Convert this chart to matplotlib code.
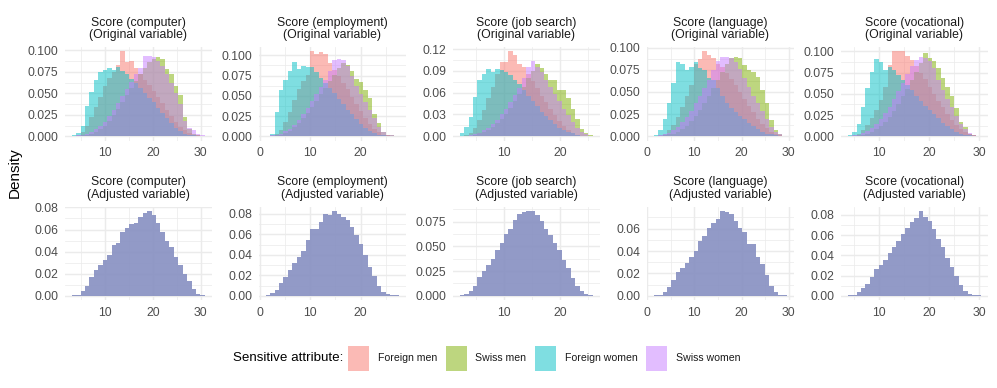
import numpy as np
import matplotlib
matplotlib.use("Agg")
import matplotlib.pyplot as plt
from matplotlib.patches import Rectangle
from matplotlib.ticker import FixedLocator, FixedFormatter

plt.rcParams['font.family'] = ['Liberation Sans', 'DejaVu Sans']

# ---------------- data ----------------
variables = ["computer", "employment", "job search", "language", "vocational"]
groups = ["Foreign men", "Swiss men", "Foreign women", "Swiss women"]
group_colors = ["#F8766D", "#7CAE00", "#00BFC4", "#C77CFF"]

# range covered by the 30 histogram bins of each score
bin_lo = [3.0, 1.2, 2.0, 1.4, 3.8]
bin_hi = [30.9, 27.6, 25.8, 29.6, 30.3]

# original variable, density per bin (30 bins) per group
comp_fm = [0.0005, 0.002, 0.005, 0.012, 0.022, 0.034, 0.046, 0.058, 0.068, 0.075, 0.083, 0.099, 0.086, 0.088, 0.079, 0.072, 0.066, 0.060, 0.053, 0.046, 0.039, 0.031, 0.024, 0.017, 0.011, 0.007, 0.004, 0.002, 0.001, 0.0003]
comp_sm = [0, 0, 0.001, 0.002, 0.003, 0.005, 0.008, 0.012, 0.018, 0.025, 0.032, 0.040, 0.048, 0.056, 0.064, 0.072, 0.080, 0.086, 0.090, 0.092, 0.090, 0.078, 0.072, 0.058, 0.048, 0.022, 0.008, 0.003, 0.001, 0.0003]
comp_fw = [0.001, 0.004, 0.012, 0.035, 0.052, 0.066, 0.075, 0.077, 0.080, 0.077, 0.081, 0.076, 0.072, 0.067, 0.062, 0.056, 0.050, 0.045, 0.040, 0.033, 0.027, 0.021, 0.015, 0.010, 0.006, 0.003, 0.002, 0.001, 0.0005, 0.0002]
comp_sw = [0, 0.001, 0.002, 0.003, 0.005, 0.008, 0.012, 0.017, 0.024, 0.031, 0.039, 0.047, 0.055, 0.063, 0.072, 0.080, 0.094, 0.094, 0.092, 0.088, 0.082, 0.072, 0.062, 0.050, 0.038, 0.018, 0.010, 0.007, 0.003, 0.001]

emp_fm = [0, 0.001, 0.003, 0.008, 0.018, 0.030, 0.045, 0.058, 0.068, 0.076, 0.105, 0.101, 0.104, 0.102, 0.090, 0.082, 0.074, 0.066, 0.058, 0.049, 0.040, 0.031, 0.022, 0.015, 0.009, 0.005, 0.002, 0.001, 0.0005, 0.0002]
emp_sm = [0, 0, 0.001, 0.002, 0.004, 0.007, 0.011, 0.016, 0.022, 0.029, 0.036, 0.044, 0.052, 0.060, 0.068, 0.076, 0.084, 0.090, 0.088, 0.080, 0.071, 0.067, 0.057, 0.047, 0.028, 0.016, 0.005, 0.002, 0.001, 0.0003]
emp_fw = [0.0005, 0.003, 0.030, 0.057, 0.069, 0.081, 0.092, 0.083, 0.087, 0.085, 0.086, 0.079, 0.072, 0.066, 0.060, 0.053, 0.046, 0.040, 0.033, 0.027, 0.021, 0.015, 0.010, 0.006, 0.004, 0.002, 0.001, 0.0005, 0.0002, 0.0001]
emp_sw = [0, 0.001, 0.002, 0.003, 0.006, 0.009, 0.014, 0.020, 0.027, 0.035, 0.043, 0.052, 0.061, 0.070, 0.080, 0.094, 0.096, 0.094, 0.087, 0.075, 0.062, 0.052, 0.042, 0.032, 0.022, 0.012, 0.005, 0.002, 0.001, 0.0003]

job_fm = [0, 0.002, 0.005, 0.011, 0.022, 0.036, 0.052, 0.068, 0.085, 0.102, 0.102, 0.117, 0.112, 0.100, 0.095, 0.085, 0.076, 0.066, 0.056, 0.047, 0.038, 0.029, 0.021, 0.014, 0.008, 0.004, 0.002, 0.001, 0.0005, 0.0002]
job_sm = [0, 0, 0.001, 0.002, 0.004, 0.006, 0.009, 0.013, 0.018, 0.024, 0.031, 0.039, 0.048, 0.058, 0.068, 0.080, 0.090, 0.099, 0.094, 0.085, 0.077, 0.077, 0.064, 0.064, 0.052, 0.038, 0.024, 0.010, 0.005, 0.002]
job_fw = [0.004, 0.013, 0.026, 0.054, 0.077, 0.086, 0.093, 0.088, 0.092, 0.091, 0.088, 0.084, 0.078, 0.072, 0.064, 0.056, 0.048, 0.041, 0.034, 0.028, 0.022, 0.017, 0.012, 0.009, 0.006, 0.004, 0.002, 0.001, 0.0005, 0.0002]
job_sw = [0, 0.001, 0.002, 0.003, 0.005, 0.008, 0.012, 0.017, 0.023, 0.030, 0.038, 0.047, 0.057, 0.067, 0.080, 0.095, 0.104, 0.096, 0.088, 0.078, 0.068, 0.058, 0.048, 0.038, 0.029, 0.020, 0.012, 0.006, 0.003, 0.001]

lang_fm = [0, 0.001, 0.003, 0.007, 0.013, 0.022, 0.033, 0.045, 0.058, 0.082, 0.087, 0.096, 0.092, 0.088, 0.082, 0.078, 0.072, 0.065, 0.058, 0.050, 0.042, 0.034, 0.027, 0.020, 0.014, 0.009, 0.005, 0.003, 0.001, 0.0005]
lang_sm = [0, 0, 0.001, 0.002, 0.003, 0.005, 0.008, 0.012, 0.017, 0.023, 0.030, 0.038, 0.046, 0.055, 0.064, 0.073, 0.082, 0.088, 0.089, 0.088, 0.080, 0.075, 0.073, 0.067, 0.052, 0.037, 0.018, 0.007, 0.002, 0.0005]
lang_fw = [0.001, 0.007, 0.020, 0.037, 0.060, 0.084, 0.082, 0.075, 0.078, 0.084, 0.077, 0.075, 0.066, 0.063, 0.054, 0.046, 0.038, 0.032, 0.027, 0.023, 0.019, 0.015, 0.012, 0.008, 0.005, 0.003, 0.002, 0.001, 0.0005, 0.0002]
lang_sw = [0, 0.001, 0.002, 0.004, 0.007, 0.011, 0.016, 0.022, 0.029, 0.037, 0.045, 0.054, 0.064, 0.075, 0.085, 0.090, 0.090, 0.088, 0.084, 0.076, 0.066, 0.056, 0.046, 0.037, 0.028, 0.019, 0.011, 0.005, 0.002, 0.0005]

voc_fm = [0, 0.001, 0.003, 0.007, 0.013, 0.021, 0.031, 0.043, 0.058, 0.084, 0.100, 0.100, 0.100, 0.095, 0.090, 0.083, 0.075, 0.067, 0.058, 0.050, 0.042, 0.034, 0.026, 0.019, 0.013, 0.008, 0.005, 0.003, 0.001, 0.0005]
voc_sm = [0, 0, 0.001, 0.002, 0.003, 0.005, 0.008, 0.012, 0.017, 0.023, 0.030, 0.038, 0.047, 0.056, 0.066, 0.076, 0.086, 0.098, 0.092, 0.088, 0.080, 0.068, 0.058, 0.047, 0.033, 0.017, 0.011, 0.003, 0.001, 0.0003]
voc_fw = [0.001, 0.005, 0.014, 0.035, 0.057, 0.076, 0.091, 0.087, 0.078, 0.082, 0.078, 0.072, 0.066, 0.060, 0.054, 0.047, 0.041, 0.036, 0.031, 0.026, 0.021, 0.016, 0.012, 0.008, 0.005, 0.003, 0.002, 0.001, 0.0005, 0.0002]
voc_sw = [0, 0.001, 0.002, 0.004, 0.006, 0.010, 0.014, 0.020, 0.027, 0.035, 0.044, 0.053, 0.063, 0.073, 0.083, 0.090, 0.093, 0.092, 0.088, 0.080, 0.066, 0.055, 0.044, 0.034, 0.024, 0.015, 0.008, 0.004, 0.002, 0.0005]

# adjusted variable (same distribution for every group)
comp_adj = [0.0008, 0.001, 0.004, 0.009, 0.017, 0.023, 0.028, 0.032, 0.037, 0.046, 0.048, 0.058, 0.061, 0.065, 0.066, 0.071, 0.075, 0.077, 0.073, 0.066, 0.058, 0.050, 0.044, 0.035, 0.028, 0.020, 0.013, 0.006, 0.002, 0.0006]
emp_adj = [0.001, 0.003, 0.006, 0.012, 0.018, 0.025, 0.032, 0.038, 0.044, 0.054, 0.065, 0.065, 0.072, 0.080, 0.079, 0.083, 0.080, 0.077, 0.074, 0.067, 0.059, 0.051, 0.040, 0.028, 0.019, 0.010, 0.004, 0.0015, 0.0008, 0.0004]
job_adj = [0.0007, 0.0017, 0.0044, 0.0094, 0.019, 0.025, 0.031, 0.037, 0.046, 0.053, 0.062, 0.068, 0.077, 0.083, 0.085, 0.086, 0.086, 0.082, 0.076, 0.068, 0.061, 0.053, 0.046, 0.036, 0.028, 0.018, 0.0094, 0.0044, 0.0013, 0.0007]
lang_adj = [0.0003, 0.001, 0.003, 0.008, 0.014, 0.021, 0.025, 0.029, 0.035, 0.040, 0.049, 0.053, 0.061, 0.065, 0.069, 0.076, 0.075, 0.073, 0.067, 0.061, 0.057, 0.046, 0.046, 0.035, 0.028, 0.019, 0.009, 0.003, 0.001, 0.0006]
voc_adj = [0.0003, 0.001, 0.0033, 0.0075, 0.012, 0.019, 0.026, 0.030, 0.035, 0.042, 0.048, 0.054, 0.061, 0.067, 0.073, 0.077, 0.084, 0.078, 0.074, 0.066, 0.056, 0.048, 0.037, 0.028, 0.020, 0.011, 0.005, 0.002, 0.0007, 0.0003]

original = [
    [comp_fm, comp_sm, comp_fw, comp_sw],
    [emp_fm, emp_sm, emp_fw, emp_sw],
    [job_fm, job_sm, job_fw, job_sw],
    [lang_fm, lang_sm, lang_fw, lang_sw],
    [voc_fm, voc_sm, voc_fw, voc_sw],
]
adjusted = [comp_adj, emp_adj, job_adj, lang_adj, voc_adj]

x_breaks = [[10, 20, 30], [0, 10, 20], [10, 20], [0, 10, 20, 30], [10, 20, 30]]
y_breaks_orig = [[0, 0.025, 0.05, 0.075, 0.1], [0, 0.025, 0.05, 0.075, 0.1],
                 [0, 0.03, 0.06, 0.09, 0.12], [0, 0.025, 0.05, 0.075, 0.1],
                 [0, 0.025, 0.05, 0.075, 0.1]]
y_breaks_adj = [[0, 0.02, 0.04, 0.06, 0.08], [0, 0.02, 0.04, 0.06, 0.08],
                [0, 0.025, 0.05, 0.075], [0, 0.02, 0.04, 0.06],
                [0, 0.02, 0.04, 0.06, 0.08]]

# ---------------- layout ----------------
W, H = 997, 388
fig = plt.figure(figsize=(W / 100, H / 100), dpi=100)
fig.patch.set_facecolor("white")

col_left = [65, 259, 453, 647, 841]
panel_w = 146.5
row_top = [47, 206.5]
panel_h = 93.5

AXIS_COL = "#4D4D4D"
STRIP_COL = "#1A1A1A"
GRID_COL = "#EBEBEB"


def ndec(ticks):
    for d in range(6):
        if all(abs(round(t, d) - t) < 1e-9 for t in ticks):
            return d
    return 6


def midpoints(br, lo, hi):
    step = br[1] - br[0]
    pts = [br[0] - step / 2] + [(a + b) / 2 for a, b in zip(br[:-1], br[1:])] + [br[-1] + step / 2]
    return [p for p in pts if lo <= p <= hi]


def style_axes(ax, xb, yb, xlim, ylim):
    ax.set_xlim(*xlim)
    ax.set_ylim(*ylim)
    for s in ax.spines.values():
        s.set_visible(False)
    xb = [v for v in xb if xlim[0] <= v <= xlim[1]]
    yb = [v for v in yb if ylim[0] <= v <= ylim[1]]
    ax.xaxis.set_major_locator(FixedLocator(xb))
    ax.xaxis.set_major_formatter(FixedFormatter([f"{v:.{ndec(xb)}f}" for v in xb]))
    ax.yaxis.set_major_locator(FixedLocator(yb))
    ax.yaxis.set_major_formatter(FixedFormatter([f"{v:.{ndec(yb)}f}" for v in yb]))
    ax.xaxis.set_minor_locator(FixedLocator(midpoints(xb, *xlim)))
    ax.yaxis.set_minor_locator(FixedLocator(midpoints(yb, *ylim)))
    ax.tick_params(which="both", length=0)
    ax.tick_params(axis="x", pad=5.0, labelsize=8.8, labelcolor=AXIS_COL)
    ax.tick_params(axis="y", pad=4.8, labelsize=8.8, labelcolor=AXIS_COL)
    ax.grid(which="major", color=GRID_COL, linewidth=1.07)
    ax.grid(which="minor", color=GRID_COL, linewidth=0.53)
    ax.set_axisbelow(True)
    ax.set_facecolor("white")


def add_panel(col, row, series_list, yb, kind):
    left = col_left[col] / W
    bottom = 1 - (row_top[row] + panel_h) / H
    ax = fig.add_axes([left, bottom, panel_w / W, panel_h / H])
    lo, hi = bin_lo[col], bin_hi[col]
    edges = np.linspace(lo, hi, len(series_list[0]) + 1)
    for vals, c in zip(series_list, group_colors):
        ax.stairs(vals, edges, fill=True, facecolor=c, alpha=0.5,
                  edgecolor="none", linewidth=0, zorder=2)
    ymax = max(max(v) for v in series_list)
    rng = hi - lo
    style_axes(ax, x_breaks[col], yb, (lo - 0.05 * rng, hi + 0.05 * rng),
               (-0.05 * ymax, 1.05 * ymax))
    cx = (col_left[col] + panel_w / 2) / W
    top = row_top[row]
    fig.text(cx, 1 - (top - 24) / H, f"Score ({variables[col]})", ha="center",
             va="center", fontsize=8.8, color=STRIP_COL)
    fig.text(cx, 1 - (top - 11.8) / H, f"({kind} variable)", ha="center",
             va="center", fontsize=8.8, color=STRIP_COL)
    return ax


for i in range(5):
    add_panel(i, 0, original[i], y_breaks_orig[i], "Original")
    add_panel(i, 1, [adjusted[i]] * 4, y_breaks_adj[i], "Adjusted")

fig.text(15 / W, 1 - 173 / H, "Density", rotation=90, ha="center", va="center",
         fontsize=11, color="black")

# ---------------- legend ----------------
leg_y = 358
fig.text(233 / W, 1 - leg_y / H, "Sensitive attribute:", ha="left", va="center",
         fontsize=9.6, color="black")
key_x = [347.7, 445.7, 535, 646]
lab_x = [377.7, 475, 565, 676]
key_w, key_h = 21.3, 25
for g, c, kx, lx in zip(groups, group_colors, key_x, lab_x):
    fig.patches.append(Rectangle((kx / W, 1 - (leg_y + key_h / 2) / H), key_w / W, key_h / H,
                                 transform=fig.transFigure, facecolor=c, alpha=0.5,
                                 edgecolor="none"))
    fig.text(lx / W, 1 - leg_y / H, g, ha="left", va="center", fontsize=7.6, color="#1A1A1A")

fig.savefig("out.png", dpi=100, facecolor="white")
